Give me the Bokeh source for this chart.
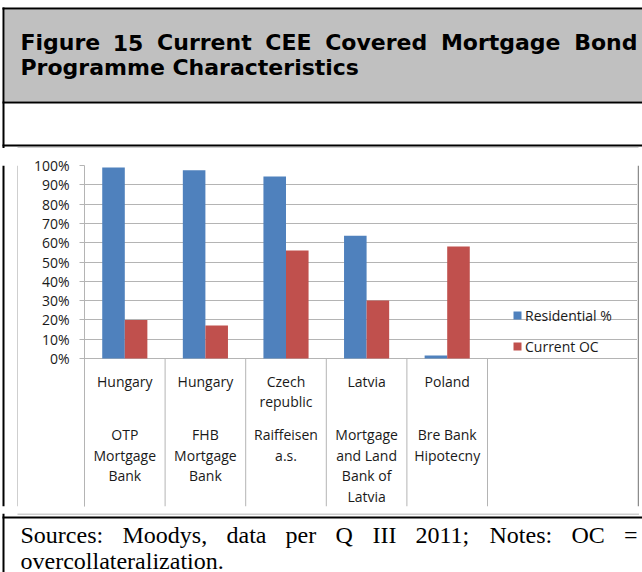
from bokeh.plotting import figure
from bokeh.layouts import column, row
from bokeh.models import (ColumnDataSource, Range1d, FixedTicker, NumeralTickFormatter,
                          Legend, LegendItem)
from bokeh.core.properties import value
from bokeh.transform import dodge
from bokeh.embed import file_html
from bokeh.resources import INLINE

# ---------------- data ----------------
banks = ["OTP Mortgage Bank", "FHB Mortgage Bank", "Raiffeisen a.s.",
         "Mortgage and Land Bank of Latvia", "Bre Bank Hipotecny"]
bank_lines = [["OTP", "Mortgage", "Bank"], ["FHB", "Mortgage", "Bank"],
              ["Raiffeisen", "a.s."], ["Mortgage", "and Land", "Bank of", "Latvia"],
              ["Bre Bank", "Hipotecny"]]
country_lines = [["Hungary"], ["Hungary"], ["Czech", "republic"], ["Latvia"], ["Poland"]]
residential = [0.99, 0.975, 0.943, 0.636, 0.016]
current_oc = [0.20, 0.171, 0.56, 0.30, 0.58]
series_names = ["Residential %", "Current OC"]
y_ticks = [0.0, 0.1, 0.2, 0.3, 0.4, 0.5, 0.6, 0.7, 0.8, 0.9, 1.0]

title_line1 = ["Figure", "15", "Current", "CEE", "Covered", "Mortgage", "Bond"]
title_line2 = "Programme Characteristics"
notes_line1 = ["Sources:", "Moodys,", "data", "per", "Q", "III", "2011;", "Notes:", "OC", "="]
notes_line2 = "overcollateralization."

# ---------------- layout / style ----------------
W, H = 642, 572
BLUE, RED = "#4F81BD", "#C0504D"
GRID = "#B4B4B4"
BOXC = "#A0A0A0"
TITLE_BG = "#C0C0C0"
TXT = "#1A1A1A"
CFONT = "Open Sans"
CSIZE = "14px"

TOP_H = 148          # title block height
MID_H = 365          # chart row height
BOT_H = H - TOP_H - MID_H
LEFT_W, RIGHT_W = 18, 5
CH_W = W - LEFT_W - RIGHT_W

# chart frame (local px in chart figure)
F_LEFT, F_TOP, F_BOTTOM = 66, 17, 358
PPU = 193.0                     # px per 100 %
ZERO_Y = 210                    # local px of 0 %
CAT_W = 80.6                    # px per category slot
LABEL_DEPTH = F_BOTTOM - ZERO_Y
country_off = [23, 43]
bank_off = [76, 96.7, 117.4, 138.1]

# justified word starts
title_x1 = [20, 112.3, 156.6, 264.8, 324.7, 440.4, 573.7]
notes_x1 = [20, 122, 226, 285, 335, 372, 415, 489, 571, 623.5]


def deco(w, h):
    f = figure(width=w, height=h, x_range=Range1d(0, w), y_range=Range1d(h, 0),
               output_backend="svg", toolbar_location=None,
               x_axis_location=None, y_axis_location=None,
               min_border=0, min_border_left=0, min_border_right=0,
               min_border_top=0, min_border_bottom=0,
               outline_line_color=None, border_fill_color="white",
               background_fill_color="white")
    f.grid.visible = False
    return f


# ---------------- title block ----------------
top = deco(W, TOP_H)
top.quad(left=[4], right=[W], top=[9], bottom=[101], fill_color=TITLE_BG, line_color=None)
top.quad(left=[2, 2, 2, 2], right=[W, 4, W, W], top=[7, 7, 101, 144],
         bottom=[9, TOP_H, 103, 146], fill_color="black", line_color=None)
top.quad(left=[LEFT_W - 1], right=[W - RIGHT_W + 1], top=[TOP_H - 1], bottom=[TOP_H],
         fill_color=BOXC, line_color=None)
top.text(x=title_x1, y=[42] * len(title_line1), text=title_line1,
         text_align="left", text_baseline="alphabetic",
         text_font=value("DejaVu Sans"), text_font_style="bold",
         text_font_size="22px", text_color="black")
top.text(x=[20], y=[67], text=[title_line2], text_baseline="alphabetic",
         text_font=value("DejaVu Sans"), text_font_style="bold",
         text_font_size="22px", text_color="black")

# ---------------- left / right strips ----------------
lft = deco(LEFT_W, MID_H)
lft.quad(left=[2, LEFT_W - 1], right=[4, LEFT_W], top=[0, 0], bottom=[MID_H, MID_H],
         fill_color=["black", BOXC], line_color=None)
rgt = deco(RIGHT_W, MID_H)
rgt.quad(left=[0], right=[1.5], top=[0], bottom=[MID_H], fill_color="#8C8C8C",
         line_color=None)

# ---------------- chart ----------------
n = len(banks)
centers = [i + 0.5 for i in range(n)]
bounds = [float(i) for i in range(n + 1)]
x_end = (CH_W - F_LEFT) / CAT_W
y_start = -LABEL_DEPTH / PPU

src = ColumnDataSource(dict(pos=centers, bank=banks, res=residential, oc=current_oc))

p = figure(width=CH_W, height=MID_H, title=None,
           x_range=Range1d(0, x_end), y_range=Range1d(y_start, 1),
           output_backend="svg", toolbar_location=None, x_axis_location=None,
           min_border_left=F_LEFT, min_border_right=0,
           min_border_top=F_TOP, min_border_bottom=MID_H - F_BOTTOM,
           outline_line_color=None, border_fill_color="white",
           background_fill_color="white")

r1 = p.vbar(x=dodge("pos", -0.14), top="res", width=0.28,
            source=src, fill_color=BLUE, line_color=None)
r2 = p.vbar(x=dodge("pos", 0.14), top="oc", width=0.28,
            source=src, fill_color=RED, line_color=None)

ya = p.yaxis[0]
ya.ticker = FixedTicker(ticks=y_ticks)
ya.formatter = NumeralTickFormatter(format="0%")
ya.axis_line_color = GRID
ya.major_tick_line_color = GRID
ya.major_tick_out = 5
ya.major_tick_in = 0
ya.minor_tick_line_color = None
ya.major_label_standoff = 10
ya.major_label_text_font = CFONT
ya.major_label_text_font_size = CSIZE
ya.major_label_text_color = TXT
p.ygrid.grid_line_color = GRID
p.ygrid.bounds = (0, n)
p.xgrid.visible = False

# category separators
p.segment(x0=bounds, y0=[0] * len(bounds), x1=bounds, y1=[y_start] * len(bounds),
          line_color=GRID, line_width=1)

# category labels (country, then bank) under each slot
lx, ly, lt = [], [], []
for c, cl, bl in zip(centers, country_lines, bank_lines):
    for off, t in zip(country_off, cl):
        lx.append(c); ly.append(-off / PPU); lt.append(t)
    for off, t in zip(bank_off, bl):
        lx.append(c); ly.append(-off / PPU); lt.append(t)
p.text(x=lx, y=ly, text=lt, text_align="center", text_baseline="middle",
       text_font=value(CFONT), text_font_size=CSIZE, text_color=TXT)

legend = Legend(items=[LegendItem(label=series_names[0], renderers=[r1]),
                       LegendItem(label=series_names[1], renderers=[r2])],
                location=(428, 150), orientation="vertical",
                glyph_width=10, glyph_height=10, label_standoff=3, spacing=11,
                label_height=20, padding=0, margin=0,
                border_line_color=None, background_fill_alpha=0,
                label_text_font=CFONT, label_text_font_size=CSIZE,
                label_text_color=TXT)
p.add_layout(legend)

# ---------------- notes block ----------------
bot = deco(W, BOT_H)
bot.quad(left=[LEFT_W - 1], right=[W - RIGHT_W + 1.5], top=[0], bottom=[1],
         fill_color=BOXC, line_color=None)
bot.quad(left=[2, 2], right=[4, W], top=[0, 3], bottom=[BOT_H, 5],
         fill_color="black", line_color=None)
bot.text(x=notes_x1, y=[21] * len(notes_line1), text=notes_line1,
         text_align="left", text_baseline="alphabetic",
         text_font=value("Liberation Serif"), text_font_size="24px", text_color="black")
bot.text(x=[20], y=[47], text=[notes_line2], text_baseline="alphabetic",
         text_font=value("Liberation Serif"), text_font_size="24px", text_color="black")

layout = column(top, row(lft, p, rgt, spacing=0), bot, spacing=0)
open("out.html", "w").write(file_html(layout, INLINE))
